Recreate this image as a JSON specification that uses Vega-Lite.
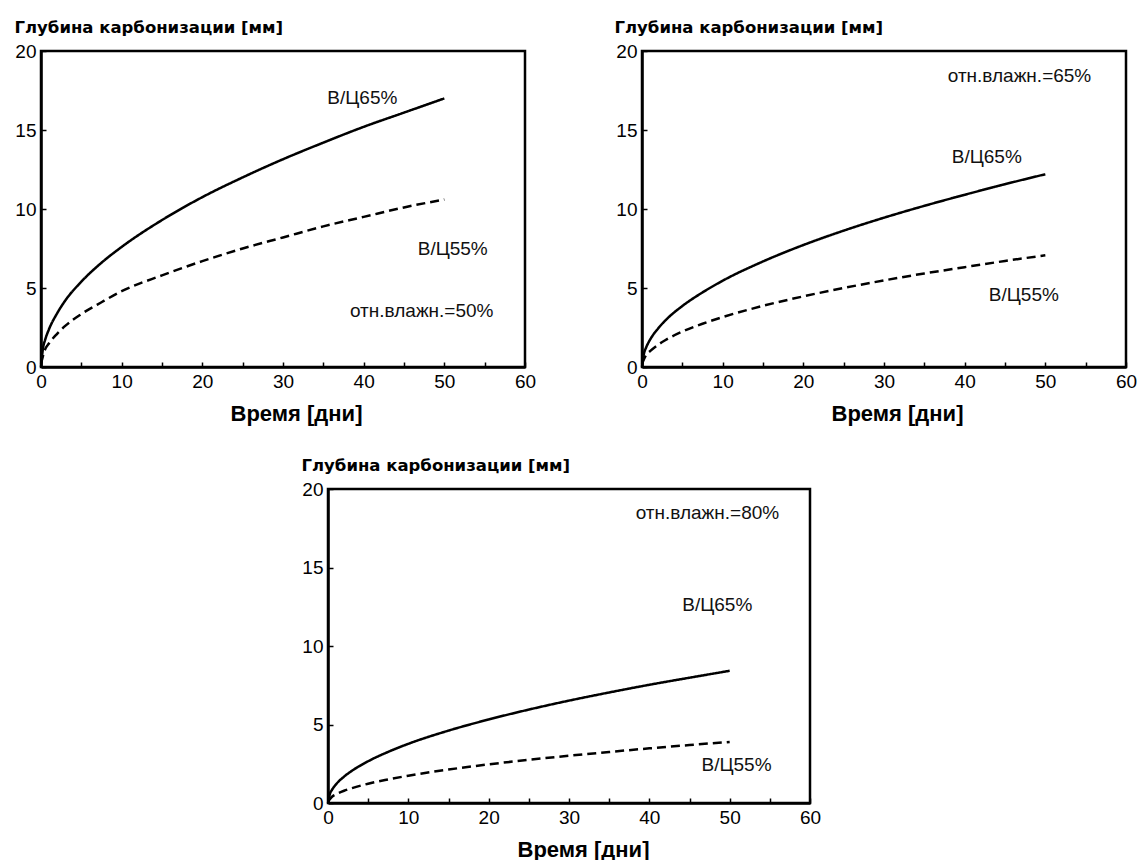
{
  "$schema": "https://vega.github.io/schema/vega-lite/v6.json",
  "background": "white",
  "padding": {"left": 12, "top": 17, "right": 0, "bottom": 0},
  "spacing": 29,
  "datasets": {
    "curves": [
      {"p":1,"series":"В/Ц65%","t":0,"d":0},{"p":1,"series":"В/Ц65%","t":0.25,"d":1.2},{"p":1,"series":"В/Ц65%","t":0.5,"d":1.7},{"p":1,"series":"В/Ц65%","t":1,"d":2.4},{"p":1,"series":"В/Ц65%","t":2,"d":3.4},{"p":1,"series":"В/Ц65%","t":3,"d":4.2},{"p":1,"series":"В/Ц65%","t":5,"d":5.4},{"p":1,"series":"В/Ц65%","t":7.5,"d":6.6},{"p":1,"series":"В/Ц65%","t":10,"d":7.6},{"p":1,"series":"В/Ц65%","t":15,"d":9.3},{"p":1,"series":"В/Ц65%","t":20,"d":10.75},{"p":1,"series":"В/Ц65%","t":25,"d":12.0},{"p":1,"series":"В/Ц65%","t":30,"d":13.15},{"p":1,"series":"В/Ц65%","t":35,"d":14.2},{"p":1,"series":"В/Ц65%","t":40,"d":15.2},{"p":1,"series":"В/Ц65%","t":45,"d":16.1},{"p":1,"series":"В/Ц65%","t":50,"d":17.0},
      {"p":1,"series":"В/Ц55%","t":0,"d":0.2},{"p":1,"series":"В/Ц55%","t":0.5,"d":1.1},{"p":1,"series":"В/Ц55%","t":1,"d":1.5},{"p":1,"series":"В/Ц55%","t":2,"d":2.1},{"p":1,"series":"В/Ц55%","t":3,"d":2.6},{"p":1,"series":"В/Ц55%","t":5,"d":3.35},{"p":1,"series":"В/Ц55%","t":7.5,"d":4.1},{"p":1,"series":"В/Ц55%","t":10,"d":4.8},{"p":1,"series":"В/Ц55%","t":15,"d":5.8},{"p":1,"series":"В/Ц55%","t":20,"d":6.7},{"p":1,"series":"В/Ц55%","t":25,"d":7.5},{"p":1,"series":"В/Ц55%","t":30,"d":8.2},{"p":1,"series":"В/Ц55%","t":35,"d":8.9},{"p":1,"series":"В/Ц55%","t":40,"d":9.5},{"p":1,"series":"В/Ц55%","t":45,"d":10.1},{"p":1,"series":"В/Ц55%","t":50,"d":10.6},
      {"p":2,"series":"В/Ц65%","t":0,"d":0},{"p":2,"series":"В/Ц65%","t":0.25,"d":0.86},{"p":2,"series":"В/Ц65%","t":0.5,"d":1.22},{"p":2,"series":"В/Ц65%","t":1,"d":1.73},{"p":2,"series":"В/Ц65%","t":2,"d":2.44},{"p":2,"series":"В/Ц65%","t":3,"d":3.0},{"p":2,"series":"В/Ц65%","t":5,"d":3.86},{"p":2,"series":"В/Ц65%","t":7.5,"d":4.72},{"p":2,"series":"В/Ц65%","t":10,"d":5.46},{"p":2,"series":"В/Ц65%","t":15,"d":6.68},{"p":2,"series":"В/Ц65%","t":20,"d":7.72},{"p":2,"series":"В/Ц65%","t":25,"d":8.63},{"p":2,"series":"В/Ц65%","t":30,"d":9.45},{"p":2,"series":"В/Ц65%","t":35,"d":10.2},{"p":2,"series":"В/Ц65%","t":40,"d":10.9},{"p":2,"series":"В/Ц65%","t":45,"d":11.57},{"p":2,"series":"В/Ц65%","t":50,"d":12.2},
      {"p":2,"series":"В/Ц55%","t":0,"d":0.2},{"p":2,"series":"В/Ц55%","t":0.5,"d":0.75},{"p":2,"series":"В/Ц55%","t":1,"d":1.0},{"p":2,"series":"В/Ц55%","t":2,"d":1.41},{"p":2,"series":"В/Ц55%","t":3,"d":1.73},{"p":2,"series":"В/Ц55%","t":5,"d":2.24},{"p":2,"series":"В/Ц55%","t":7.5,"d":2.74},{"p":2,"series":"В/Ц55%","t":10,"d":3.16},{"p":2,"series":"В/Ц55%","t":15,"d":3.87},{"p":2,"series":"В/Ц55%","t":20,"d":4.47},{"p":2,"series":"В/Ц55%","t":25,"d":5.0},{"p":2,"series":"В/Ц55%","t":30,"d":5.48},{"p":2,"series":"В/Ц55%","t":35,"d":5.92},{"p":2,"series":"В/Ц55%","t":40,"d":6.32},{"p":2,"series":"В/Ц55%","t":45,"d":6.71},{"p":2,"series":"В/Ц55%","t":50,"d":7.07},
      {"p":3,"series":"В/Ц65%","t":0,"d":0},{"p":3,"series":"В/Ц65%","t":0.25,"d":0.6},{"p":3,"series":"В/Ц65%","t":0.5,"d":0.84},{"p":3,"series":"В/Ц65%","t":1,"d":1.19},{"p":3,"series":"В/Ц65%","t":2,"d":1.68},{"p":3,"series":"В/Ц65%","t":3,"d":2.06},{"p":3,"series":"В/Ц65%","t":5,"d":2.66},{"p":3,"series":"В/Ц65%","t":7.5,"d":3.26},{"p":3,"series":"В/Ц65%","t":10,"d":3.77},{"p":3,"series":"В/Ц65%","t":15,"d":4.61},{"p":3,"series":"В/Ц65%","t":20,"d":5.32},{"p":3,"series":"В/Ц65%","t":25,"d":5.95},{"p":3,"series":"В/Ц65%","t":30,"d":6.52},{"p":3,"series":"В/Ц65%","t":35,"d":7.04},{"p":3,"series":"В/Ц65%","t":40,"d":7.53},{"p":3,"series":"В/Ц65%","t":45,"d":7.98},{"p":3,"series":"В/Ц65%","t":50,"d":8.42},
      {"p":3,"series":"В/Ц55%","t":0,"d":0.1},{"p":3,"series":"В/Ц55%","t":0.5,"d":0.4},{"p":3,"series":"В/Ц55%","t":1,"d":0.55},{"p":3,"series":"В/Ц55%","t":2,"d":0.78},{"p":3,"series":"В/Ц55%","t":3,"d":0.95},{"p":3,"series":"В/Ц55%","t":5,"d":1.23},{"p":3,"series":"В/Ц55%","t":7.5,"d":1.5},{"p":3,"series":"В/Ц55%","t":10,"d":1.74},{"p":3,"series":"В/Ц55%","t":15,"d":2.13},{"p":3,"series":"В/Ц55%","t":20,"d":2.46},{"p":3,"series":"В/Ц55%","t":25,"d":2.75},{"p":3,"series":"В/Ц55%","t":30,"d":3.01},{"p":3,"series":"В/Ц55%","t":35,"d":3.25},{"p":3,"series":"В/Ц55%","t":40,"d":3.48},{"p":3,"series":"В/Ц55%","t":45,"d":3.69},{"p":3,"series":"В/Ц55%","t":50,"d":3.89}
    ],
    "notes": [
      {"p":1,"label":"В/Ц65%","x":35.5,"y":17.0},
      {"p":1,"label":"В/Ц55%","x":46.7,"y":7.5},
      {"p":1,"label":"отн.влажн.=50%","x":38.3,"y":3.55},
      {"p":2,"label":"отн.влажн.=65%","x":37.9,"y":18.4},
      {"p":2,"label":"В/Ц65%","x":38.4,"y":13.3},
      {"p":2,"label":"В/Ц55%","x":43.0,"y":4.55},
      {"p":3,"label":"отн.влажн.=80%","x":38.3,"y":18.45},
      {"p":3,"label":"В/Ц65%","x":44.1,"y":12.6},
      {"p":3,"label":"В/Ц55%","x":46.5,"y":2.45}
    ]
  },
  "config": {
    "view": {"stroke": "black", "strokeWidth": 2.5},
    "axis": {
      "domainColor": "black", "domainWidth": 2.5,
      "tickColor": "black", "tickWidth": 1.5, "tickSize": -5,
      "grid": false,
      "labelFont": "Liberation Sans", "labelFontSize": 19, "labelColor": "black",
      "labelFlush": false, "labelOverlap": false, "labelPadding": 10,
      "titleColor": "black"
    }
  },
  "vconcat": [
    {
      "hconcat": [
        {
          "width": 484, "height": 316,
          "layer": [
            {
              "data": {"name": "curves"},
              "transform": [{"filter": "datum.p == 1"}],
              "mark": {"type": "line", "color": "black", "strokeWidth": 2.5, "interpolate": "monotone"},
              "encoding": {
                "x": {"field": "t", "type": "quantitative", "scale": {"domain": [0, 60], "nice": false},
                  "axis": {"title": "Время [дни]", "values": [0,5,10,15,20,25,30,35,40,45,50,55,60], "labelExpr": "datum.value % 10 === 0 ? datum.label : ''",
                    "titleFont": "Liberation Sans", "titleFontSize": 22, "titleFontWeight": "bold", "titleX": 255, "titleY": 46, "titleBaseline": "middle", "titleAlign": "center"}},
                "y": {"field": "d", "type": "quantitative", "scale": {"domain": [0, 20], "nice": false},
                  "axis": {"title": "Глубина карбонизации [мм]", "values": [0,2.5,5,7.5,10,12.5,15,17.5,20], "labelExpr": "datum.value % 5 === 0 ? datum.label : ''",
                    "titleAngle": 0, "titleAlign": "left", "titleBaseline": "middle", "titleX": -27, "titleY": -24,
                    "titleFont": "DejaVu Sans", "titleFontSize": 16.5, "titleFontWeight": "bold"}},
                "strokeDash": {"field": "series", "type": "nominal", "scale": {"domain": ["В/Ц65%", "В/Ц55%"], "range": [[1, 0], [9, 5]]}, "legend": null}
              }
            },
            {
              "data": {"name": "notes"},
              "transform": [{"filter": "datum.p == 1"}],
              "mark": {"type": "text", "align": "left", "baseline": "middle", "font": "Liberation Sans", "fontSize": 19, "color": "#111"},
              "encoding": {
                "x": {"field": "x", "type": "quantitative"},
                "y": {"field": "y", "type": "quantitative"},
                "text": {"field": "label"}
              }
            }
          ]
        },
        {
          "width": 484, "height": 316,
          "layer": [
            {
              "data": {"name": "curves"},
              "transform": [{"filter": "datum.p == 2"}],
              "mark": {"type": "line", "color": "black", "strokeWidth": 2.5, "interpolate": "monotone"},
              "encoding": {
                "x": {"field": "t", "type": "quantitative", "scale": {"domain": [0, 60], "nice": false},
                  "axis": {"title": "Время [дни]", "values": [0,5,10,15,20,25,30,35,40,45,50,55,60], "labelExpr": "datum.value % 10 === 0 ? datum.label : ''",
                    "titleFont": "Liberation Sans", "titleFontSize": 22, "titleFontWeight": "bold", "titleX": 255, "titleY": 46, "titleBaseline": "middle", "titleAlign": "center"}},
                "y": {"field": "d", "type": "quantitative", "scale": {"domain": [0, 20], "nice": false},
                  "axis": {"title": "Глубина карбонизации [мм]", "values": [0,2.5,5,7.5,10,12.5,15,17.5,20], "labelExpr": "datum.value % 5 === 0 ? datum.label : ''",
                    "titleAngle": 0, "titleAlign": "left", "titleBaseline": "middle", "titleX": -28, "titleY": -24,
                    "titleFont": "DejaVu Sans", "titleFontSize": 16.5, "titleFontWeight": "bold"}},
                "strokeDash": {"field": "series", "type": "nominal", "scale": {"domain": ["В/Ц65%", "В/Ц55%"], "range": [[1, 0], [9, 5]]}, "legend": null}
              }
            },
            {
              "data": {"name": "notes"},
              "transform": [{"filter": "datum.p == 2"}],
              "mark": {"type": "text", "align": "left", "baseline": "middle", "font": "Liberation Sans", "fontSize": 19, "color": "#111"},
              "encoding": {
                "x": {"field": "x", "type": "quantitative"},
                "y": {"field": "y", "type": "quantitative"},
                "text": {"field": "label"}
              }
            }
          ]
        }
      ],
      "spacing": 117,
      "bounds": "flush"
    },
    {
      "hconcat": [
        {
          "width": 287, "height": 300,
          "view": {"stroke": null},
          "data": {"values": [{"t": 0}]},
          "mark": {"type": "point", "opacity": 0},
          "encoding": {}
        },
        {
          "width": 482, "height": 314,
          "layer": [
            {
              "data": {"name": "curves"},
              "transform": [{"filter": "datum.p == 3"}],
              "mark": {"type": "line", "color": "black", "strokeWidth": 2.5, "interpolate": "monotone"},
              "encoding": {
                "x": {"field": "t", "type": "quantitative", "scale": {"domain": [0, 60], "nice": false},
                  "axis": {"title": "Время [дни]", "values": [0,5,10,15,20,25,30,35,40,45,50,55,60], "labelExpr": "datum.value % 10 === 0 ? datum.label : ''",
                    "titleFont": "Liberation Sans", "titleFontSize": 22, "titleFontWeight": "bold", "titleX": 255, "titleY": 46, "titleBaseline": "middle", "titleAlign": "center"}},
                "y": {"field": "d", "type": "quantitative", "scale": {"domain": [0, 20], "nice": false},
                  "axis": {"title": "Глубина карбонизации [мм]", "values": [0,2.5,5,7.5,10,12.5,15,17.5,20], "labelExpr": "datum.value % 5 === 0 ? datum.label : ''",
                    "titleAngle": 0, "titleAlign": "left", "titleBaseline": "middle", "titleX": -27, "titleY": -24,
                    "titleFont": "DejaVu Sans", "titleFontSize": 16.5, "titleFontWeight": "bold"}},
                "strokeDash": {"field": "series", "type": "nominal", "scale": {"domain": ["В/Ц65%", "В/Ц55%"], "range": [[1, 0], [9, 5]]}, "legend": null}
              }
            },
            {
              "data": {"name": "notes"},
              "transform": [{"filter": "datum.p == 3"}],
              "mark": {"type": "text", "align": "left", "baseline": "middle", "font": "Liberation Sans", "fontSize": 19, "color": "#111"},
              "encoding": {
                "x": {"field": "x", "type": "quantitative"},
                "y": {"field": "y", "type": "quantitative"},
                "text": {"field": "label"}
              }
            }
          ]
        }
      ],
      "spacing": 0,
      "bounds": "flush"
    }
  ]
}
